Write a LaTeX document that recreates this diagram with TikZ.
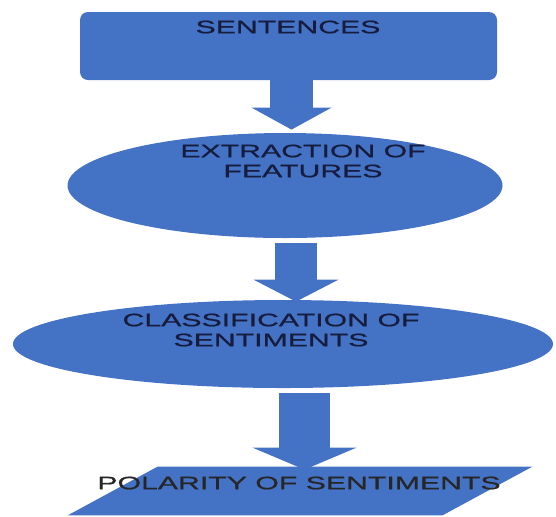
\documentclass[tikz,border=0pt]{standalone}
\usepackage{fontspec}
\usepackage{xcolor}
\newfontfamily\widefont[FakeStretch=1.68, FakeBold=0.8]{Liberation Sans}
\usetikzlibrary{shapes,arrows,positioning,calc,arrows.meta}
\definecolor{boxblue}{RGB}{68,114,196}
\definecolor{labelnavy}{RGB}{22,28,62}

\begin{document}
\begin{tikzpicture}[x=0.5pt, y=-0.5pt,
    blockfill/.style={fill=boxblue, draw=none, inner sep=0pt},
    txt/.style={font=\widefont\fontsize{9pt}{10pt}\selectfont, text=labelnavy, align=center, inner sep=0pt},
    bigarrow/.style 2 args={draw=boxblue, line width=#1, -{Triangle[width=#2, length=11pt, line width=0pt]}}]
    \useasboundingbox (0,0) rectangle (556,516);

    % Blocks
    \node [blockfill, rectangle, rounded corners=4pt, minimum width=208.5pt, minimum height=34pt] (sent) at (288.5,46) {};
    \node [blockfill, ellipse, minimum width=217.5pt, minimum height=52.5pt] (extr) at (285,185.5) {};
    \node [blockfill, ellipse, minimum width=270pt, minimum height=44pt] (clas) at (283,344) {};
    \node [inner sep=0pt, minimum width=187pt, minimum height=24pt] (pol) at (300,491) {};
    \fill [boxblue] ([xshift=-22.5pt]pol.south west) -- ([xshift=-22.5pt]pol.south east)
        -- ([xshift=22.5pt]pol.north east) -- ([xshift=22.5pt]pol.north west) -- cycle;

    % Labels
    \node [txt] (senttxt) at (288,27) {SENTENCES};
    \node [txt] (extrtxt) at (303,161) {EXTRACTION OF\\FEATURES};
    \node [txt] (clastxt) at (271,330) {CLASSIFICATION OF\\SENTIMENTS};
    \node [txt, text=black!85] (poltxt) at (299,483) {POLARITY OF SENTIMENTS};

    % Arrows
    \draw [bigarrow={21.5pt}{40pt}] ([xshift=1.5pt]sent.south) -- ([xshift=3.25pt, yshift=1.5pt]extr.north);
    \draw [bigarrow={21pt}{42.5pt}] ([xshift=5.5pt, yshift=-2.5pt]extr.south) -- ([xshift=6.5pt, yshift=-1pt]clas.north);
    \draw [bigarrow={25.5pt}{52pt}] ([xshift=10.75pt, yshift=-2.5pt]clas.south) -- ([xshift=2.25pt, yshift=-1.5pt]pol.north);

\end{tikzpicture}
\end{document}
